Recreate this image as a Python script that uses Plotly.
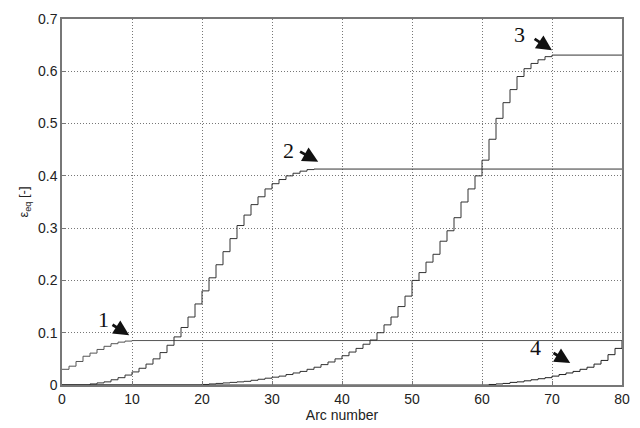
import plotly.graph_objects as go

arc = list(range(0, 81))

curve1 = [0.030, 0.036, 0.045, 0.055, 0.061, 0.068, 0.074, 0.079, 0.082, 0.084] + [0.085] * 71

curve2 = [0, 0, 0, 0, 0.002, 0.004, 0.006, 0.010, 0.014, 0.019,
          0.025, 0.032, 0.040, 0.050, 0.062, 0.076, 0.092, 0.110, 0.130, 0.155,
          0.180, 0.205, 0.230, 0.255, 0.280, 0.305, 0.325, 0.345, 0.360, 0.375,
          0.385, 0.393, 0.400, 0.405, 0.409, 0.412] + [0.413] * 45

curve3 = [0] * 20 + [0.001, 0.002, 0.003, 0.004, 0.005, 0.006, 0.007, 0.009, 0.011, 0.013,
                     0.015, 0.017, 0.020, 0.023, 0.026, 0.030, 0.034, 0.039, 0.044, 0.050,
                     0.056, 0.063, 0.070, 0.078, 0.086, 0.100, 0.115, 0.130, 0.150, 0.170,
                     0.200, 0.215, 0.235, 0.250, 0.275, 0.295, 0.320, 0.350, 0.375, 0.400,
                     0.430, 0.470, 0.510, 0.540, 0.565, 0.590, 0.605, 0.615, 0.622, 0.628] + [0.631] * 11

curve4 = [0] * 61 + [0.001, 0.002, 0.003, 0.005, 0.006, 0.008, 0.010, 0.012, 0.014,
                     0.017, 0.020, 0.023, 0.026, 0.030, 0.034, 0.040, 0.047, 0.058, 0.070, 0.085]

x_ticks = [0, 10, 20, 30, 40, 50, 60, 70, 80]
y_ticks = [0, 0.1, 0.2, 0.3, 0.4, 0.5, 0.6, 0.7]
y_tick_text = ["0", "0.1", "0.2", "0.3", "0.4", "0.5", "0.6", "0.7"]

# annotation labels: text position, arrow tail and arrow head
labels = ["1", "2", "3", "4"]
label_x = [5.9, 32.4, 65.4, 67.6]
label_y = [0.125, 0.448, 0.670, 0.071]
tail_x = [7.0, 33.8, 67.3, 70.0]
tail_y = [0.117, 0.448, 0.664, 0.063]
head_x = [9.6, 36.6, 70.0, 72.6]
head_y = [0.095, 0.427, 0.640, 0.042]

fig = go.Figure()
line_colors = ["#555555", "#333333", "#333333", "#222222"]
for ys, c in zip([curve1, curve2, curve3, curve4], line_colors):
    fig.add_trace(go.Scatter(x=arc, y=ys, mode="lines", line=dict(color=c, width=1, shape="hv"),
                             showlegend=False, hoverinfo="skip"))

for t, lx, ly, tx, ty, hx, hy in zip(labels, label_x, label_y, tail_x, tail_y, head_x, head_y):
    fig.add_annotation(x=lx, y=ly, text=t, showarrow=False, xref="x", yref="y",
                       font=dict(family="Liberation Serif", size=22, color="#111111"))
    fig.add_annotation(x=hx, y=hy, ax=tx, ay=ty, axref="x", ayref="y", xref="x", yref="y",
                       text="", showarrow=True, arrowhead=2, arrowsize=1.1, arrowwidth=2.8,
                       arrowcolor="#111111")

axis_common = dict(showline=True, linecolor="#777777", linewidth=1.5, mirror=True,
                   showgrid=True, gridcolor="#777777", griddash="1px,2px", gridwidth=1,
                   zeroline=False, ticks="inside", ticklen=4, tickcolor="#777777",
                   tickfont=dict(family="Liberation Sans", size=14, color="#222222"))

fig.update_xaxes(range=[0, 80], tickvals=x_ticks, title=dict(text="Arc number", standoff=2,
                 font=dict(family="Liberation Sans", size=14, color="#222222")), **axis_common)
fig.update_yaxes(range=[0, 0.7], tickvals=y_ticks, ticktext=y_tick_text,
                 title=dict(text="ε<sub>eq</sub> [-]", standoff=6,
                            font=dict(family="Liberation Sans", size=13, color="#222222")),
                 **axis_common)

fig.update_layout(width=640, height=428, margin=dict(l=62, r=10, t=19, b=40),
                  plot_bgcolor="white", paper_bgcolor="white")

fig.write_html("out.html")
